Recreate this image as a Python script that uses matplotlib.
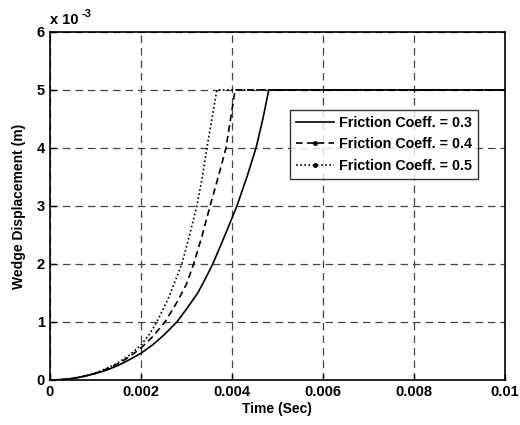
import numpy as np
import matplotlib.pyplot as plt
from matplotlib.lines import Line2D

plt.rcParams['font.family'] = ['Liberation Sans', 'DejaVu Sans']
plt.rcParams['font.weight'] = 'bold'

# valores: tiempo en ms, desplazamiento en unidades de 1e-3 m
t_03 = [0, 0.25, 0.5, 0.75, 1.0, 1.25, 1.5, 1.75, 2.0, 2.25, 2.5, 2.79, 3.0, 3.25,
        3.42, 3.58, 3.85, 4.11, 4.33, 4.53, 4.68, 4.81, 10]
d_03 = [0, 0.005, 0.025, 0.06, 0.11, 0.17, 0.25, 0.35, 0.46, 0.6, 0.77, 1.0, 1.22, 1.5,
        1.75, 2.0, 2.5, 3.0, 3.5, 4.0, 4.5, 5.0, 5.0]

t_04 = [0, 0.25, 0.5, 0.75, 1.0, 1.25, 1.5, 1.75, 2.0, 2.25, 2.53, 2.8, 3.0, 3.16,
        3.35, 3.52, 3.7, 3.87, 3.97, 4.07, 10]
d_04 = [0, 0.005, 0.025, 0.065, 0.115, 0.19, 0.28, 0.4, 0.55, 0.74, 1.0, 1.35, 1.65, 2.0,
        2.5, 3.0, 3.5, 4.0, 4.5, 5.0, 5.0]

t_05 = [0, 0.25, 0.5, 0.75, 1.0, 1.25, 1.5, 1.75, 2.0, 2.2, 2.35, 2.6, 2.9, 3.07,
        3.23, 3.35, 3.45, 3.56, 3.67, 10]
d_05 = [0, 0.005, 0.027, 0.07, 0.12, 0.2, 0.3, 0.43, 0.6, 0.8, 1.0, 1.4, 2.0, 2.5,
        3.0, 3.5, 4.0, 4.5, 5.0, 5.0]

etiquetas = ['Friction Coeff. = 0.3', 'Friction Coeff. = 0.4', 'Friction Coeff. = 0.5']
x_ticks = [0, 0.002, 0.004, 0.006, 0.008, 0.01]
x_labels = ['0', '0.002', '0.004', '0.006', '0.008', '0.01']
y_ticks = [0, 1, 2, 3, 4, 5, 6]

fig = plt.figure(figsize=(5.2, 4.25), dpi=100)
ax = fig.add_axes([0.096, 0.106, 0.875, 0.819])

ms = 1e-3
ax.plot(np.array(t_03) * ms, d_03, color='black', linestyle='-', linewidth=1.2)
ax.plot(np.array(t_04) * ms, d_04, color='black', linestyle=(0, (4, 2.5)), linewidth=1.2)
ax.plot(np.array(t_05) * ms, d_05, color='black', linestyle=(0, (1, 1.5)), linewidth=1.2)

ax.set_xlim(0, 0.01)
ax.set_ylim(0, 6)
ax.set_xticks(x_ticks)
ax.set_xticklabels(x_labels)
ax.set_yticks(y_ticks)
ax.tick_params(direction='in', labelsize=10.5, length=4, width=1)
for s in ax.spines.values():
    s.set_linewidth(1.2)

ax.grid(True, color='#444444', linestyle=(0, (6, 4)), linewidth=0.9)

ax.set_xlabel('Time (Sec)', fontsize=10, fontweight='bold', labelpad=2)
ax.set_ylabel('Wedge Displacement (m)', fontsize=10, fontweight='bold', labelpad=8)

# factor de escala del eje y, estilo MATLAB
ax.annotate('x 10', xy=(0, 1), xycoords='axes fraction', xytext=(0, 5),
            textcoords='offset pixels', fontsize=10.5, fontweight='bold',
            ha='left', va='bottom')
ax.annotate('-3', xy=(0, 1), xycoords='axes fraction', xytext=(32, 13),
            textcoords='offset pixels', fontsize=8, fontweight='bold',
            ha='left', va='bottom')

# entradas de la leyenda con marcador como en el original
handles = [
    Line2D([], [], color='black', linestyle='-', linewidth=1.2),
    Line2D([], [], color='black', linestyle=(0, (4, 2.5)), linewidth=1.2, marker='.', markersize=5),
    Line2D([], [], color='black', linestyle=(0, (1, 1.5)), linewidth=1.2, marker='.', markersize=5),
]
leg = ax.legend(handles, etiquetas, loc='upper right', bbox_to_anchor=(0.941, 0.776),
                borderaxespad=0, fontsize=10.3, frameon=True, fancybox=False,
                edgecolor='black', handlelength=2.6, handletextpad=0.35,
                labelspacing=0.5, borderpad=0.45)
leg.get_frame().set_linewidth(1.0)
for txt in leg.get_texts():
    txt.set_fontweight('bold')

fig.savefig('out.png', dpi=100, facecolor='white')
